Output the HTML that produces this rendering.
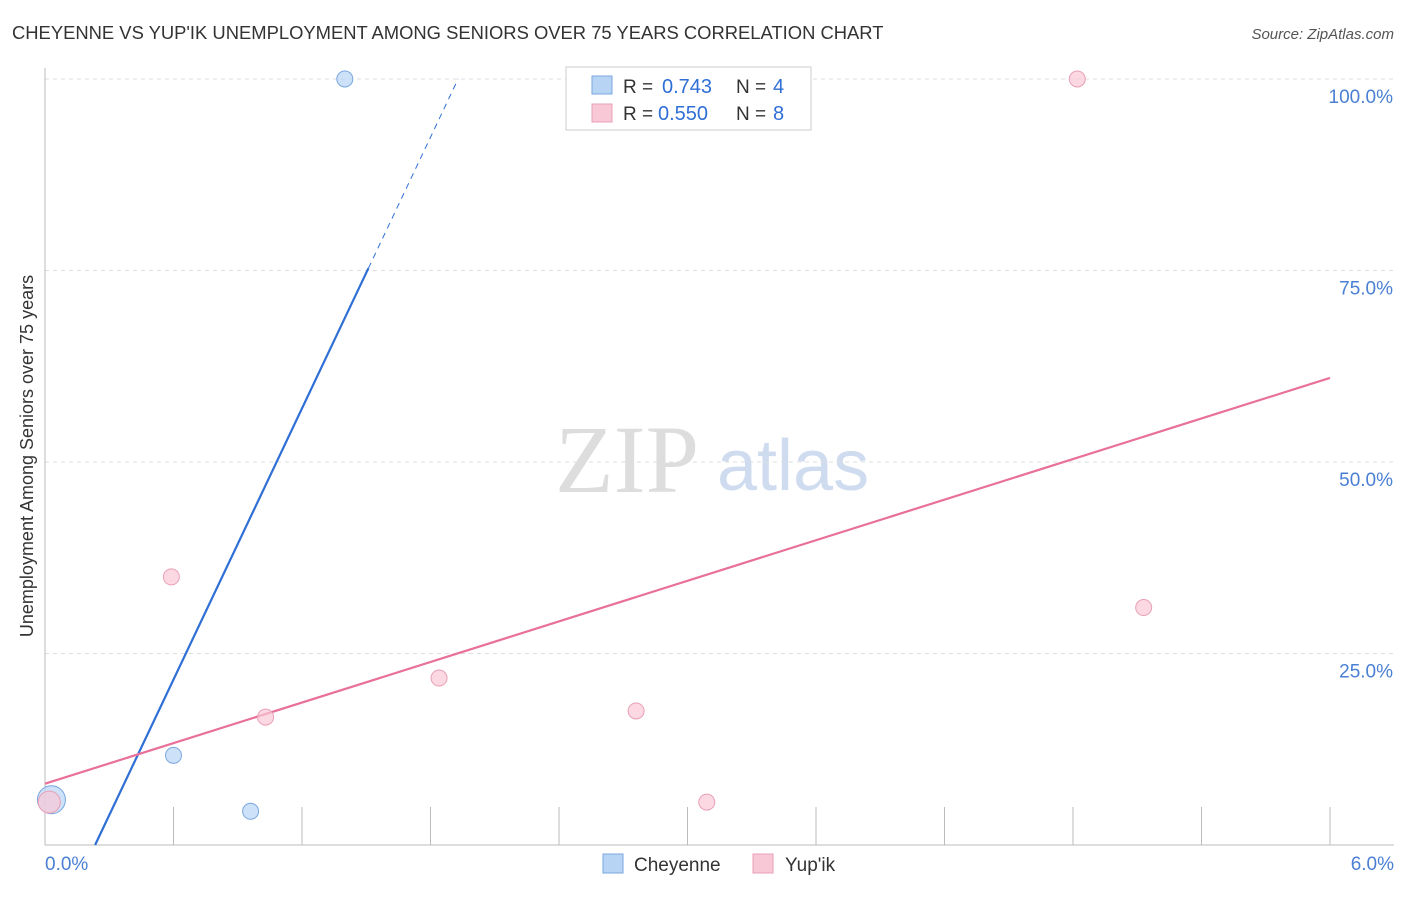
<!DOCTYPE html>
<html><head><meta charset="utf-8"><style>
body{margin:0;background:#fff;font-family:"Liberation Sans",sans-serif;}
svg text{font-family:"Liberation Sans",sans-serif;}
</style></head><body>
<svg id="c" width="1406" height="892" viewBox="0 0 1406 892">
<text x="12" y="39" font-size="18.4" fill="#333">CHEYENNE VS YUP'IK UNEMPLOYMENT AMONG SENIORS OVER 75 YEARS CORRELATION CHART</text>
<text x="1394" y="39" font-size="15" fill="#555" font-style="italic" text-anchor="end">Source: ZipAtlas.com</text>
<text x="33" y="456" font-size="18" fill="#333" text-anchor="middle" transform="rotate(-90 33 456)">Unemployment Among Seniors over 75 years</text>
<text x="555" y="492" font-size="96" fill="#ddd" style="font-family:'Liberation Serif',serif">ZIP</text>
<text x="717" y="490" font-size="72" fill="#cfdcf0">atlas</text>
<g id="grid"></g><g id="lines"></g><g id="pts"></g>
<g>
<rect x="566" y="67" width="245" height="63" fill="#fff" stroke="#ccc"/>
<rect x="592" y="76" width="20" height="18" fill="#b8d4f5" stroke="#7aa7e0"/>
<text x="623" y="93" font-size="19" fill="#333">R = </text><text x="662" y="93" font-size="20" fill="#2f6fd6">0.743</text>
<text x="736" y="93" font-size="19" fill="#333">N = </text><text x="773" y="93" font-size="20" fill="#2f6fd6">4</text>
<rect x="592" y="104" width="20" height="18" fill="#f9c8d6" stroke="#e9a0b6"/>
<text x="623" y="120" font-size="19" fill="#333">R = </text><text x="658" y="120" font-size="20" fill="#2f6fd6">0.550</text>
<text x="736" y="120" font-size="19" fill="#333">N = </text><text x="773" y="120" font-size="20" fill="#2f6fd6">8</text>
</g>
<g>
<rect x="603" y="854" width="20" height="19" fill="#b8d4f5" stroke="#7aa7e0"/>
<text x="634" y="871" font-size="19" fill="#333">Cheyenne</text>
<rect x="753" y="854" width="20" height="19" fill="#f9c8d6" stroke="#e9a0b6"/>
<text x="785" y="871" font-size="19" fill="#333">Yup'ik</text>
</g>
</svg>
<script>
const yTicks=[25,50,75,100];
const yTickLabels=["25.0%","50.0%","75.0%","100.0%"];
const cheyX=[0.03,0.6,0.96,1.4];
const cheyY=[5.9,11.7,4.4,100];
const yupX=[0.02,0.59,1.03,1.84,2.76,3.09,4.82,5.13];
const yupY=[5.6,35,16.7,21.8,17.5,5.6,100,31];
const cheyFit=[-13.8,59.0];
const yupFit=[8.0,8.83];
const X=v=>45+v/6*1285, Y=v=>845-v*7.66;
const NS="http://www.w3.org/2000/svg";
function mk(t,a,p){const e=document.createElementNS(NS,t);for(const k in a)e.setAttribute(k,a[k]);p.appendChild(e);return e;}
const g=document.getElementById('grid');
yTicks.forEach((t,i)=>{
 const l=mk('line',{x1:45,x2:1394,y1:Y(t),y2:Y(t),stroke:'#ddd','stroke-dasharray':'4,4'},g);
 
 
 const tx=mk('text',{x:1393,y:Y(t)+24,'font-size':19,fill:'#4a7fd4','text-anchor':'end'},g);
 tx.textContent=yTickLabels[i];
 
 
});
const ax=mk('line',{x1:45,x2:45,y1:68,y2:845,stroke:'#bbb'},g);


const bx=mk('line',{x1:45,x2:1394,y1:845,y2:845,stroke:'#bbb'},g);


for(let i=1;i<=10;i++){const t=mk('line',{x1:X(i*0.6),x2:X(i*0.6),y1:807,y2:845,stroke:'#bbb'},g);
 
 }
[["0.0%",45,'start'],["6.0%",1394,'end']].forEach(([s,x,a])=>{const t=mk('text',{x:x,y:870,'font-size':19,fill:'#4a7fd4','text-anchor':a},g);t.textContent=s;
 
 });
const L=document.getElementById('lines');
const cx0=-cheyFit[0]/cheyFit[1], cxs=(75.3-cheyFit[0])/cheyFit[1], cx1=(100-cheyFit[0])/cheyFit[1];
const b1=mk('line',{x1:X(cx0),y1:Y(0),x2:X(cxs),y2:Y(cheyFit[0]+cheyFit[1]*cxs),stroke:'#2f6fd6','stroke-width':2.2},L);


const b2=mk('line',{x1:X(cxs),y1:Y(cheyFit[0]+cheyFit[1]*cxs),x2:X(cx1),y2:Y(100),stroke:'#2f6fd6','stroke-width':1,'stroke-dasharray':'6,5'},L);


const p1=mk('line',{x1:X(0),y1:Y(yupFit[0]),x2:X(6),y2:Y(yupFit[0]+yupFit[1]*6),stroke:'#e8709a','stroke-width':2.2},L);


const P=document.getElementById('pts');
cheyX.forEach((x,i)=>{const c=mk('circle',{cx:X(x),cy:Y(cheyY[i]),r:i==0?14:8,fill:'#b8d4f5','fill-opacity':0.7,stroke:'#7aa7e0'},P);
 
 });
yupX.forEach((x,i)=>{const c=mk('circle',{cx:X(x),cy:Y(yupY[i]),r:i==0?11:8,fill:'#f9c8d6','fill-opacity':0.7,stroke:'#e9a0b6'},P);
 
 });
</script>
</body></html>
